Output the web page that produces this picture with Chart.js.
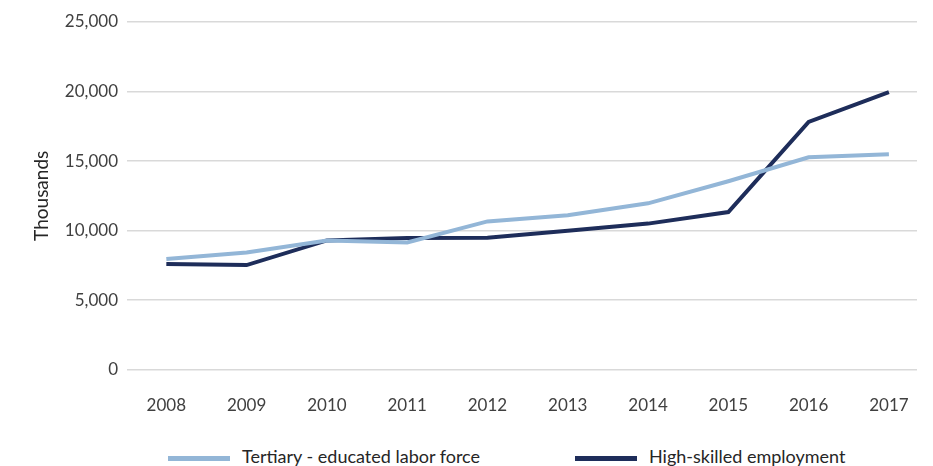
<!doctype html>
<html lang="en">
  <head>
    <meta charset="utf-8">
    <title>Tertiary-educated labor force and high-skilled employment</title>
    <style>
      * {
        margin: 0;
        padding: 0;
      }
      body {
        background: #fff;
        font-family: 'Lato', 'Open Sans', sans-serif;
      }
      .chartBox {
        position: relative;
        width: 933px;
        height: 466px;
      }
      .plot {
        width: 933px;
        height: 434px;
      }
      .legend {
        position: absolute;
        left: 0;
        top: 445px;
        width: 933px;
        height: 22px;
        font-size: 18px;
        color: #262626;
      }
      .legend span {
        position: absolute;
        top: 0;
        line-height: 22px;
        white-space: nowrap;
      }
      .legend i {
        display: inline-block;
        width: 62px;
        height: 5px;
        margin-right: 12px;
        vertical-align: middle;
      }
    </style>
  </head>
  <body>
    <div class="chartBox">
      <div class="plot">
        <canvas id="myChart"></canvas>
      </div>
      <div class="legend" id="legend"></div>
    </div>
    <script src="https://cdn.jsdelivr.net/npm/chart.js/dist/chart.umd.min.js"></script>
    <script>

    // data (thousands)
    const years = [2008, 2009, 2010, 2011, 2012, 2013, 2014, 2015, 2016, 2017];
    const tertiaryLabor = [7950, 8430, 9290, 9150, 10660, 11100, 11960, 13550, 15270, 15490];
    const highSkilled = [7600, 7520, 9290, 9460, 9490, 9980, 10500, 11330, 17820, 19950];
    const yTicks = [0, 5000, 10000, 15000, 20000, 25000];

    const toPoints = vals => years.map((yr, i) => ({ x: yr, y: vals[i] }));

    const fontFamily = "'Lato', 'Open Sans', sans-serif";

    // setup
    const data = {
      datasets: [{
        label: 'Tertiary - educated labor force',
        data: toPoints(tertiaryLabor),
        borderColor: '#93b6d7',
        backgroundColor: '#93b6d7',
        borderWidth: 4,
        pointRadius: 0,
        tension: 0
      }, {
        label: 'High-skilled employment',
        data: toPoints(highSkilled),
        borderColor: '#1e2d5a',
        backgroundColor: '#1e2d5a',
        borderWidth: 4,
        pointRadius: 0,
        tension: 0
      }]
    };

    // legend below the canvas, built from the datasets
    const legendLeft = [168, 575];
    const legendBox = document.getElementById('legend');
    data.datasets.forEach((ds, i) => {
      const item = document.createElement('span');
      item.style.left = legendLeft[i] + 'px';
      const swatch = document.createElement('i');
      swatch.style.background = ds.borderColor;
      item.appendChild(swatch);
      item.appendChild(document.createTextNode(ds.label));
      legendBox.appendChild(item);
    });

    // config
    const config = {
      type: 'line',
      data,
      options: {
        responsive: true,
        maintainAspectRatio: false,
        animation: false,
        layout: {
          padding: { top: 22, right: 16, bottom: 0, left: 0 }
        },
        scales: {
          x: {
            type: 'linear',
            min: 2007.51,
            max: 2017.35,
            grid: { display: false },
            border: { display: false },
            ticks: {
              stepSize: 1,
              includeBounds: false,
              padding: 18,
              color: '#404040',
              font: { family: fontFamily, size: 17 },
              callback: v => String(v)
            }
          },
          y: {
            min: 0,
            max: 25000,
            afterBuildTicks: scale => {
              scale.ticks = yTicks.map(v => ({ value: v }));
            },
            afterFit: scale => {
              scale.width = 127;
            },
            grid: {
              color: '#d9d9d9',
              lineWidth: 1.5,
              drawTicks: false
            },
            border: { display: false },
            ticks: {
              padding: 9,
              color: '#404040',
              font: { family: fontFamily, size: 17 },
              callback: v => v.toLocaleString('en-US')
            },
            title: {
              display: true,
              text: 'Thousands',
              color: '#262626',
              padding: { top: 30, bottom: 0 },
              font: { family: fontFamily, size: 19 }
            }
          }
        },
        plugins: {
          legend: { display: false },
          tooltip: { enabled: false }
        }
      }
    };

    // render init block
    const myChart = new Chart(
      document.getElementById('myChart'),
      config
    );
    </script>
  </body>
</html>
